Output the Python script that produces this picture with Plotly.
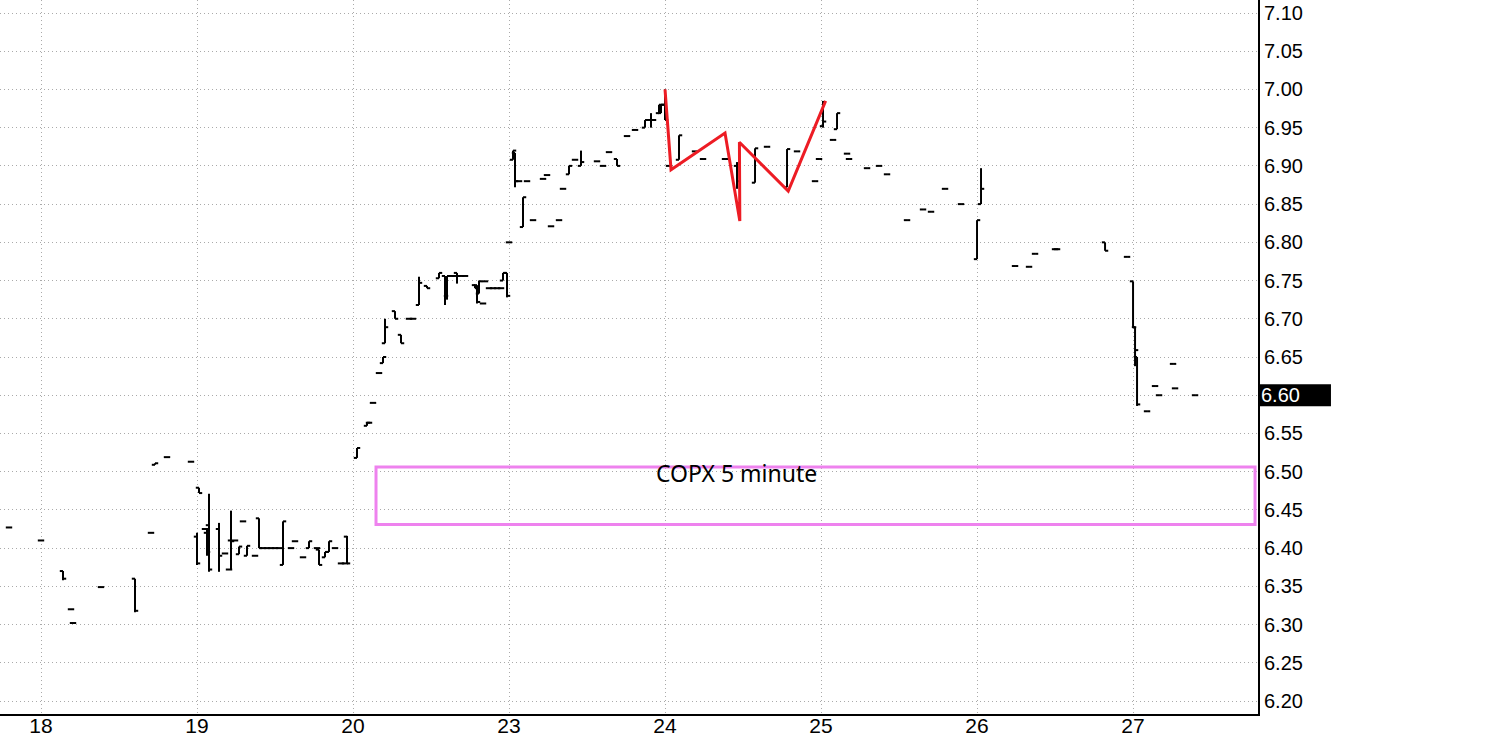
import plotly.graph_objects as go

# COPX 5 minute bars, sessions 17..27 (weekend 21/22 skipped)
session_labels = ["18", "19", "20", "23", "24", "25", "26", "27"]
BARS_PER_DAY = 78  # 6.5h session of 5 minute bars

# session index of each bar (-1 = the session before the 18th)
bar_day = [-1] + [0] * 10 + [1] * 33 + [2] * 32 + [3] * 27 + [4] * 13 + [5] * 13 + [6] * 9 + [7] * 9

# 5 minute slot within the session
bar_slot = [
    62,
    0, 11, 15, 16, 30, 47, 55, 57, 63, 75,
    0, 1, 4, 5, 6, 11, 14, 16, 17, 19, 21, 23, 25, 29, 31, 33, 35, 37, 39, 41, 43, 47, 49, 53, 56, 60, 61, 64, 66, 69, 72, 74, 75,
    2, 7, 8, 10, 13, 15, 16, 21, 24, 28, 30, 33, 37, 43, 46, 47, 49, 51, 52, 54, 56, 61, 62, 63, 65, 66, 68, 70, 72, 74, 75, 77,
    0, 2, 3, 5, 7, 9, 12, 17, 19, 21, 25, 27, 30, 33, 36, 44, 47, 50, 54, 59, 63, 68, 70, 71, 72, 75, 76,
    0, 2, 7, 15, 19, 30, 36, 45, 51, 61, 66, 75, 77,
    1, 6, 8, 13, 14, 23, 29, 33, 43, 51, 55, 62, 70,
    0, 2, 19, 26, 29, 39, 40, 64, 75,
    0, 1, 2, 7, 11, 13, 20, 21, 31,
]

bar_open = [
    6.427,
    6.410, 6.370, 6.320, 6.302, 6.349, 6.360, 6.420, 6.509, 6.519, 6.513,
    6.415, 6.479, 6.425, 6.420, 6.430, 6.425, 6.393, 6.372, 6.410, 6.410, 6.392, 6.435, 6.390, 6.390, 6.439,
    6.400, 6.400, 6.400, 6.400, 6.400, 6.378, 6.400, 6.409, 6.388, 6.400, 6.400, 6.398, 6.388, 6.395, 6.400,
    6.380, 6.380, 6.415,
    6.518, 6.560, 6.564, 6.590, 6.629, 6.642, 6.668, 6.710, 6.679, 6.700, 6.700, 6.718, 6.743, 6.753, 6.756,
    6.730, 6.756, 6.756, 6.760, 6.756, 6.756, 6.744, 6.744, 6.733, 6.720, 6.749, 6.740, 6.740, 6.740, 6.740,
    6.750, 6.760,
    6.800, 6.908, 6.917, 6.880, 6.820, 6.880, 6.829, 6.883, 6.888, 6.821, 6.829, 6.870, 6.889, 6.908, 6.900,
    6.906, 6.900, 6.918, 6.909, 6.939, 6.947, 6.950, 6.960, 6.960, 6.960, 6.969, 6.969,
    6.980, 6.900, 6.908, 6.919, 6.909, 6.909, 6.900, 6.878, 6.925, 6.872, 6.919, 6.880, 6.909,
    6.952, 6.934, 6.948, 6.916, 6.909, 6.897, 6.900, 6.889, 6.829, 6.843, 6.840, 6.870, 6.850,
    6.778, 6.850, 6.769, 6.768, 6.785, 6.791, 6.791, 6.800, 6.781,
    6.749, 6.689, 6.650, 6.579, 6.612, 6.600, 6.641, 6.609, 6.600,
]

bar_high = [
    6.427,
    6.410, 6.370, 6.320, 6.302, 6.349, 6.360, 6.420, 6.511, 6.519, 6.513,
    6.420, 6.479, 6.425, 6.425, 6.471, 6.433, 6.393, 6.372, 6.449, 6.410, 6.402, 6.435, 6.403, 6.390, 6.439,
    6.400, 6.400, 6.400, 6.400, 6.400, 6.435, 6.400, 6.409, 6.388, 6.409, 6.400, 6.398, 6.395, 6.409, 6.400,
    6.380, 6.380, 6.416,
    6.531, 6.564, 6.564, 6.590, 6.629, 6.650, 6.700, 6.710, 6.679, 6.700, 6.700, 6.755, 6.743, 6.760, 6.756,
    6.756, 6.756, 6.756, 6.760, 6.756, 6.756, 6.744, 6.744, 6.750, 6.720, 6.749, 6.740, 6.740, 6.740, 6.740,
    6.760, 6.760,
    6.800, 6.920, 6.917, 6.880, 6.859, 6.880, 6.829, 6.883, 6.888, 6.821, 6.829, 6.870, 6.900, 6.908, 6.920,
    6.906, 6.900, 6.918, 6.909, 6.939, 6.947, 6.960, 6.960, 6.969, 6.960, 6.980, 6.980,
    7.000, 6.900, 6.940, 6.919, 6.909, 6.909, 6.905, 6.923, 6.925, 6.922, 6.919, 6.880, 6.909,
    6.985, 6.934, 6.969, 6.916, 6.909, 6.897, 6.900, 6.889, 6.829, 6.843, 6.840, 6.870, 6.850,
    6.829, 6.897, 6.769, 6.768, 6.785, 6.791, 6.791, 6.800, 6.781,
    6.749, 6.689, 6.650, 6.579, 6.612, 6.600, 6.641, 6.609, 6.600,
]

bar_low = [
    6.427,
    6.410, 6.358, 6.320, 6.302, 6.349, 6.316, 6.420, 6.509, 6.519, 6.513,
    6.378, 6.472, 6.425, 6.390, 6.369, 6.369, 6.393, 6.372, 6.372, 6.410, 6.392, 6.435, 6.390, 6.390, 6.400,
    6.400, 6.400, 6.400, 6.400, 6.400, 6.378, 6.400, 6.409, 6.388, 6.400, 6.400, 6.378, 6.388, 6.395, 6.400,
    6.380, 6.380, 6.380,
    6.518, 6.560, 6.564, 6.590, 6.629, 6.642, 6.668, 6.700, 6.668, 6.700, 6.700, 6.718, 6.740, 6.753, 6.718,
    6.725, 6.756, 6.756, 6.746, 6.756, 6.756, 6.740, 6.720, 6.733, 6.720, 6.749, 6.740, 6.740, 6.740, 6.740,
    6.750, 6.728,
    6.800, 6.908, 6.872, 6.880, 6.820, 6.880, 6.829, 6.883, 6.888, 6.821, 6.829, 6.870, 6.889, 6.908, 6.900,
    6.906, 6.900, 6.918, 6.900, 6.939, 6.947, 6.950, 6.960, 6.950, 6.960, 6.969, 6.969,
    6.960, 6.900, 6.908, 6.919, 6.909, 6.909, 6.870, 6.878, 6.925, 6.872, 6.919, 6.880, 6.909,
    6.950, 6.934, 6.948, 6.916, 6.909, 6.897, 6.900, 6.889, 6.829, 6.843, 6.840, 6.870, 6.850,
    6.778, 6.850, 6.769, 6.768, 6.785, 6.791, 6.791, 6.789, 6.781,
    6.689, 6.638, 6.586, 6.579, 6.612, 6.600, 6.641, 6.609, 6.600,
]

bar_close = [
    6.427,
    6.410, 6.360, 6.320, 6.302, 6.349, 6.318, 6.420, 6.511, 6.519, 6.513,
    6.380, 6.472, 6.425, 6.395, 6.372, 6.390, 6.393, 6.372, 6.409, 6.410, 6.402, 6.435, 6.403, 6.390, 6.400,
    6.400, 6.400, 6.400, 6.400, 6.400, 6.435, 6.400, 6.409, 6.388, 6.409, 6.400, 6.378, 6.395, 6.409, 6.400,
    6.380, 6.380, 6.380,
    6.531, 6.564, 6.564, 6.590, 6.629, 6.650, 6.689, 6.700, 6.668, 6.700, 6.700, 6.747, 6.740, 6.760, 6.730,
    6.756, 6.756, 6.756, 6.756, 6.756, 6.756, 6.740, 6.722, 6.749, 6.720, 6.749, 6.740, 6.740, 6.740, 6.740,
    6.760, 6.730,
    6.800, 6.920, 6.880, 6.880, 6.859, 6.880, 6.829, 6.883, 6.888, 6.821, 6.829, 6.870, 6.900, 6.908, 6.905,
    6.906, 6.900, 6.918, 6.900, 6.939, 6.947, 6.960, 6.960, 6.960, 6.960, 6.980, 6.980,
    6.960, 6.900, 6.940, 6.919, 6.909, 6.909, 6.880, 6.923, 6.925, 6.922, 6.919, 6.880, 6.909,
    6.958, 6.934, 6.969, 6.916, 6.909, 6.897, 6.900, 6.889, 6.829, 6.843, 6.840, 6.870, 6.850,
    6.829, 6.870, 6.769, 6.768, 6.785, 6.791, 6.791, 6.789, 6.781,
    6.689, 6.659, 6.588, 6.579, 6.612, 6.600, 6.641, 6.609, 6.600,
]

# hand drawn red zigzag (session, slot, price)
zz_day = [4, 4, 4, 4, 4, 4, 5]
zz_slot = [0, 3, 30, 37.4, 37.2, 61.6, 2.3]
zz_price = [7.000, 6.895, 6.943, 6.828, 6.931, 6.867, 6.985]

title_text = "COPX 5 minute"

n = len(bar_day)
assert all(len(a) == n for a in (bar_slot, bar_open, bar_high, bar_low, bar_close))


def to_x(day, slot):
    return day + slot / BARS_PER_DAY


bar_x = [to_x(d, s) for d, s in zip(bar_day, bar_slot)]
zz_x = [to_x(d, s) for d, s in zip(zz_day, zz_slot)]

# OHLC bars as line segments so the open/close ticks can be wider than the bar spacing
tick_half = 1.6 / BARS_PER_DAY
seg_x, seg_y = [], []
for x, o, h, l, c in zip(bar_x, bar_open, bar_high, bar_low, bar_close):
    seg_x += [x, x, None, x - tick_half, x, None, x, x + tick_half, None]
    seg_y += [l, h, None, o, o, None, c, c, None]

fig = go.Figure()

fig.add_trace(go.Scatter(
    x=seg_x, y=seg_y,
    mode="lines",
    line=dict(color="black", width=2),
    hoverinfo="skip",
    showlegend=False,
))

fig.add_trace(go.Scatter(
    x=zz_x, y=zz_price,
    mode="lines",
    line=dict(color="#ED1C24", width=3),
    hoverinfo="skip",
    showlegend=False,
))

# violet box with the chart title
fig.add_shape(
    type="rect", xref="x", yref="y",
    x0=to_x(2, 11.5), x1=to_x(7, 61),
    y0=6.431, y1=6.506,
    line=dict(color="#EE82EE", width=3),
    fillcolor="rgba(0,0,0,0)",
)
fig.add_annotation(
    x=to_x(4, 35.5), y=6.498, xref="x", yref="y",
    text=title_text, showarrow=False,
    font=dict(family="Noto Sans, Open Sans, sans-serif", size=23, color="black"),
    xanchor="center", yanchor="middle",
)

# last price marker on the price scale
last = bar_close[-1]
fig.add_shape(
    type="rect", xref="paper", yref="y",
    x0=1, x1=1.058, y0=last - 0.0143, y1=last + 0.0143,
    fillcolor="black", line=dict(width=0), layer="above",
)
fig.add_annotation(
    x=1, y=last, xref="paper", yref="y",
    text=f"{last:.2f}", showarrow=False,
    font=dict(family="Liberation Sans, Arial, sans-serif", size=20, color="white"),
    xanchor="left", yanchor="middle", xshift=1,
)

grid = dict(showgrid=True, gridcolor="#AAAAAA", griddash="1px,3px", gridwidth=1)

fig.update_layout(
    width=1507, height=754,
    margin=dict(l=0, r=249, t=0, b=40, autoexpand=False),
    plot_bgcolor="white", paper_bgcolor="white",
    showlegend=False,
    xaxis=dict(
        range=[-0.2628, 7.801],
        tickvals=list(range(len(session_labels))),
        ticktext=session_labels,
        zeroline=False,
        showline=True, linecolor="black", linewidth=2,
        ticks="",
        ticklabelstandoff=-8,
        automargin=False,
        tickfont=dict(family="Liberation Sans Narrow, Liberation Sans, Arial", size=21, color="black"),
        **grid,
    ),
    yaxis=dict(
        side="right",
        range=[6.183, 7.117],
        tick0=6.2, dtick=0.05, tickformat=".2f",
        zeroline=False,
        showline=True, linecolor="black", linewidth=2,
        ticks="",
        ticklabeloverflow="allow",
        automargin=False,
        tickfont=dict(family="Liberation Sans, Arial, sans-serif", size=20, color="black"),
        **grid,
    ),
)

# chart fills the whole window, so drop the default page margin
fig.write_html(
    "out.html",
    config={"displayModeBar": False},
    post_script="document.body.style.margin = '0';",
)
